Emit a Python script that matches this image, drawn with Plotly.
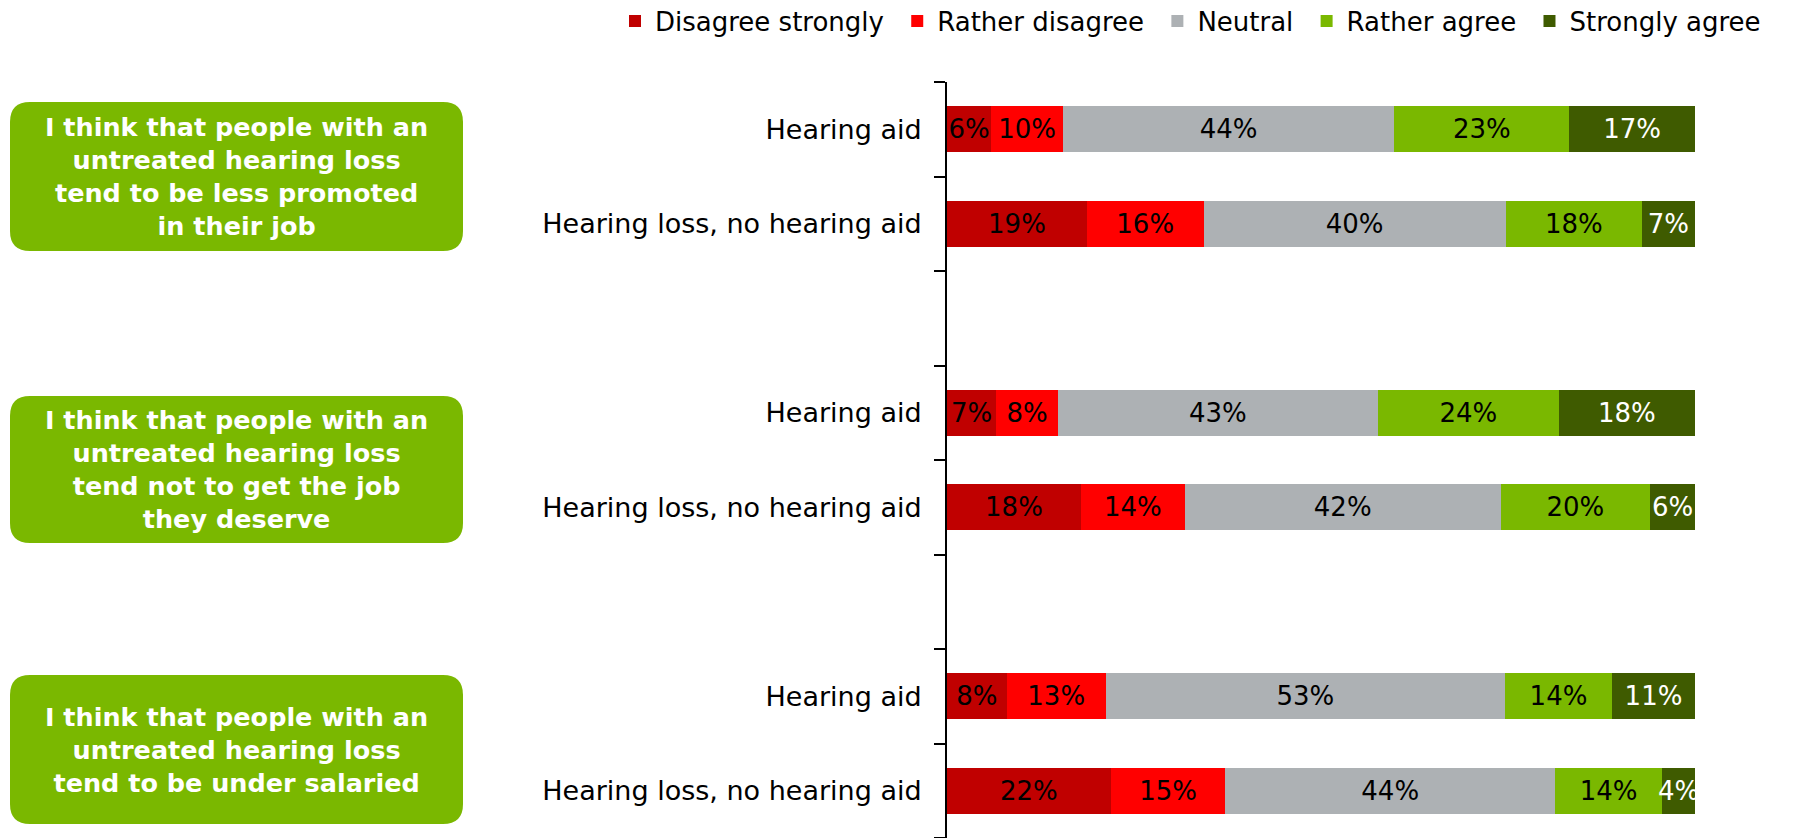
import plotly.graph_objects as go

# ---------------- data ----------------
statements = [
    "I think that people with an<br>untreated hearing loss<br>tend to be less promoted<br>in their job",
    "I think that people with an<br>untreated hearing loss<br>tend not to get the job<br>they deserve",
    "I think that people with an<br>untreated hearing loss<br>tend to be under salaried",
]
respondents = ["Hearing aid", "Hearing loss, no hearing aid"]

series_names = ["Disagree strongly", "Rather disagree", "Neutral", "Rather agree", "Strongly agree"]
# rows: s1 HA, s1 HL, s2 HA, s2 HL, s3 HA, s3 HL  (percent)
disagree_strongly = [5.9, 18.7, 6.6, 17.9, 8.0, 21.9]
rather_disagree = [9.6, 15.6, 8.2, 13.9, 13.2, 15.3]
neutral = [44.3, 40.4, 42.8, 42.2, 53.4, 44.1]
rather_agree = [23.4, 18.2, 24.2, 20.0, 14.3, 14.3]
strongly_agree = [16.8, 7.1, 18.2, 6.0, 11.1, 4.4]

series_values = [disagree_strongly, rather_disagree, neutral, rather_agree, strongly_agree]
series_colors = ["#C00000", "#FF0000", "#ADB1B4", "#7AB800", "#3F5B00"]
text_colors = ["#000000", "#000000", "#000000", "#000000", "#FFFFFF"]

# ---------------- categories ----------------
row_ids = []
cat_order = []
cat_labels = []
for si in range(len(statements)):
    for ri, r in enumerate(respondents):
        cid = f"s{si}_r{ri}"
        row_ids.append(cid)
        cat_order.append(cid)
        cat_labels.append(r)
    if si < len(statements) - 1:
        gid = f"gap{si}"
        cat_order.append(gid)
        cat_labels.append("")

# ---------------- geometry (window pixels; page body has 8px margin) ----------------
W, H = 1800, 838
OFF = 8
ML, MR, MT, MB = 947 - OFF, 113, 82 - OFF, OFF
PW, PH = W - ML - MR, H - MT - MB


def px_x(wx):
    return (wx - OFF - ML) / PW


def px_y(wy):
    return (H - MB - (wy - OFF)) / PH


FONT = "DejaVu Sans"
NBSP = "\u00a0"

fig = go.Figure()
for i, (name, vals, col, tcol) in enumerate(zip(series_names, series_values, series_colors, text_colors)):
    legend_name = name + (NBSP if i < len(series_names) - 1 else "")
    fig.add_trace(go.Bar(
        name=legend_name,
        x=vals,
        y=row_ids,
        orientation="h",
        marker=dict(color=col, line=dict(width=0)),
        texttemplate="%{x:.0f}%",
        textposition="inside",
        insidetextanchor="middle",
        textangle=0,
        constraintext="none",
        textfont=dict(family=FONT, size=26, color=tcol),
        hoverinfo="skip",
    ))

# rounded green boxes with statement text
boxes_px = [(10, 102, 463, 251), (10, 396, 463, 543), (10, 675, 463, 824)]
shapes = []
annotations = []
r = 20
for (x0p, y0p, x1p, y1p), txt in zip(boxes_px, statements):
    x0, x1 = px_x(x0p), px_x(x1p)
    yt, yb = px_y(y0p), px_y(y1p)
    rx, ry = r / PW, r / PH
    path = (
        f"M {x0 + rx},{yt} L {x1 - rx},{yt} Q {x1},{yt} {x1},{yt - ry} "
        f"L {x1},{yb + ry} Q {x1},{yb} {x1 - rx},{yb} "
        f"L {x0 + rx},{yb} Q {x0},{yb} {x0},{yb + ry} "
        f"L {x0},{yt - ry} Q {x0},{yt} {x0 + rx},{yt} Z"
    )
    shapes.append(dict(type="path", xref="paper", yref="paper", path=path,
                       fillcolor="#7AB800", line=dict(width=0), layer="below"))
    annotations.append(dict(
        xref="paper", yref="paper",
        x=(x0 + x1) / 2, y=(yt + yb) / 2,
        xanchor="center", yanchor="middle",
        text=txt, showarrow=False, align="center",
        font=dict(family=FONT, size=25.5, color="#FFFFFF", weight="bold"),
    ))

fig.update_layout(
    width=W, height=H,
    margin=dict(l=ML, r=MR, t=MT, b=MB, pad=0, autoexpand=False),
    paper_bgcolor="white", plot_bgcolor="white",
    barmode="stack", bargap=0.51,
    uniformtext=dict(minsize=26, mode="show"),
    font=dict(family=FONT, size=26, color="#000000"),
    showlegend=True,
    legend=dict(
        orientation="h", xref="paper", yref="paper",
        x=px_x(615), xanchor="left", y=px_y(21), yanchor="middle",
        font=dict(family=FONT, size=26, color="#000000"),
        traceorder="normal", itemclick=False, itemdoubleclick=False,
        bgcolor="rgba(0,0,0,0)", borderwidth=0,
    ),
    xaxis=dict(range=[0, 100], visible=False, fixedrange=True),
    yaxis=dict(
        type="category",
        categoryorder="array", categoryarray=cat_order,
        range=[len(cat_order) - 0.5, -0.5],
        tickmode="array", tickvals=cat_order, ticktext=cat_labels,
        tickson="boundaries",
        ticks="outside", ticklen=11, tickwidth=2, tickcolor="#000000",
        showline=True, linewidth=2, linecolor="#000000",
        showgrid=False, zeroline=False,
        ticklabelstandoff=18,
        tickfont=dict(family=FONT, size=27, color="#000000"),
        fixedrange=True,
    ),
    shapes=shapes,
    annotations=annotations,
)

fig.write_html("out.html")
